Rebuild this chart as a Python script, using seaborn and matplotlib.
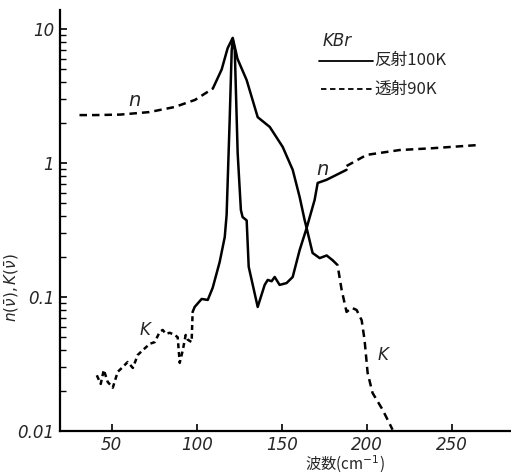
import numpy as np
import pandas as pd
import matplotlib
matplotlib.use("Agg")
import matplotlib.pyplot as plt
import matplotlib.ticker as mtick
import seaborn as sns

# n (transmission, low freq) - dashed
n_tr_lo_x = [31, 40, 55, 72, 87, 99, 109.5]
n_tr_lo_y = [2.28, 2.28, 2.30, 2.40, 2.62, 2.96, 3.6]
# n (reflection) - solid
n_rf_x = [109.5, 114.7, 118.2, 120.6, 121.2, 124, 129.4, 135.9, 143, 150.6, 156.5, 160.6, 163.5, 164.7,
          169.4, 171.2, 176.5, 188.2]
n_rf_y = [3.6, 5.0, 7.2, 8.3, 8.6, 6.0, 4.16, 2.2, 1.86, 1.32, 0.89, 0.557, 0.376, 0.327,
          0.53, 0.71, 0.75, 0.89]
# n (transmission, high freq) - dashed
n_tr_hi_x = [188.2, 200, 219.4, 238.8, 264.7]
n_tr_hi_y = [0.95, 1.15, 1.25, 1.29, 1.36]

# K (transmission, low freq) - dashed
k_tr_lo_x = [41.2, 43.5, 45.3, 47.6, 50.6, 53.5, 55.9, 59.4, 62.4, 65.3, 68.2, 72.4, 75.3, 78.2, 80,
             81.8, 84.1, 87.1, 88.8, 90, 91.8, 93.5, 94.7, 97, 97.6]
k_tr_lo_y = [0.026, 0.0224, 0.0285, 0.0232, 0.021, 0.0276, 0.0295, 0.0327, 0.0295, 0.0369, 0.040,
             0.0447, 0.046, 0.0548, 0.0567, 0.053, 0.054, 0.052, 0.050, 0.0322, 0.040, 0.052, 0.048,
             0.046, 0.0773]
# K (reflection) - solid
k_rf_x = [97.6, 98.8, 102.9, 106.5, 109.4, 113.5, 116.5, 117.6, 119.4, 120.6, 121.2, 122.4, 124.1, 126,
          127, 129.4, 130.6, 135.9, 140, 141.8, 144.1, 145.9, 148.8, 152.9, 156.5, 160.6, 164.7,
          168.2, 172.4, 176.5, 180]
k_rf_y = [0.0773, 0.0842, 0.0966, 0.095, 0.117, 0.182, 0.28, 0.41, 2.1, 6.97, 8.3, 6.97, 1.19, 0.446,
          0.395, 0.373, 0.168, 0.0842, 0.123, 0.134, 0.131, 0.141, 0.123, 0.127, 0.141, 0.224, 0.327,
          0.213, 0.195, 0.204, 0.188]
# K (transmission, high freq) - dashed
k_tr_hi_x = [180, 182.9, 185.3, 188.2, 191.2, 194.1, 197.1, 198.8, 200.6, 203.5, 209.4, 215.3]
k_tr_hi_y = [0.188, 0.173, 0.113, 0.0773, 0.083, 0.080, 0.067, 0.0477, 0.0271, 0.0192, 0.0144, 0.0102]

x_ticks = [50, 100, 150, 200, 250]
y_ticks = [0.01, 0.1, 1, 10]
y_tick_labels = ["0.01", "0.1", "1", "10"]

sns.set_style("ticks")
plt.rcParams['font.family'] = ['DejaVu Sans', 'Noto Sans CJK JP']
lat = ['DejaVu Sans']
cjk = ['Noto Sans CJK JP', 'DejaVu Sans']

fig = plt.figure(figsize=(5.11, 4.74), dpi=100)
ax = fig.add_axes([0.117, 0.091, 0.883, 0.888])

lw = 1.8
for xs, ys in [(n_rf_x, n_rf_y), (k_rf_x, k_rf_y)]:
    sns.lineplot(x=xs, y=ys, ax=ax, sort=False, color='black', lw=lw)
for xs, ys in [(n_tr_lo_x, n_tr_lo_y), (n_tr_hi_x, n_tr_hi_y), (k_tr_hi_x, k_tr_hi_y)]:
    sns.lineplot(x=xs, y=ys, ax=ax, sort=False, color='black', lw=lw, linestyle=(0, (3, 2)))
sns.lineplot(x=k_tr_lo_x, y=k_tr_lo_y, ax=ax, sort=False, color='black', lw=lw, linestyle=(0, (2, 1.5)))

ax.set_yscale('log')
ax.set_xlim(19.4, 285)
ax.set_ylim(0.01, 13.9)
ax.set_xticks(x_ticks)
ax.set_xticklabels([str(t) for t in x_ticks], family=lat, fontstyle='italic', fontsize=12)
ax.set_yticks(y_ticks)
ax.set_yticklabels(y_tick_labels, family=lat, fontstyle='italic', fontsize=12)
ax.yaxis.set_minor_locator(mtick.LogLocator(base=10, subs=np.arange(2, 10)))
ax.yaxis.set_minor_formatter(mtick.NullFormatter())
ax.tick_params(axis='both', which='both', direction='in', color='black')
ax.tick_params(axis='both', which='major', length=5, width=1.2, pad=4)
ax.tick_params(axis='y', which='minor', length=4, width=1.0)
sns.despine(ax=ax)
for s in ['left', 'bottom']:
    ax.spines[s].set_linewidth(1.6)
    ax.spines[s].set_color('black')

# curve labels
ax.text(63.5, 2.95, "n", family=lat, fontsize=14, fontstyle='italic', ha='center', va='center')
ax.text(174, 0.9, "n", family=lat, fontsize=14, fontstyle='italic', ha='center', va='center')
ax.text(69.5, 0.057, "K", family=lat, fontsize=12, fontstyle='italic', ha='center', va='center')
ax.text(209.5, 0.037, "K", family=lat, fontsize=12, fontstyle='italic', ha='center', va='center')

# legend drawn by hand like the original
ax.text(0.583, 0.927, "KBr", transform=ax.transAxes, family=lat, fontsize=12, fontstyle='italic',
        va='center')
ax.plot([0.574, 0.695], [0.879, 0.879], transform=ax.transAxes, color='black', lw=1.3)
ax.plot([0.578, 0.695], [0.812, 0.812], transform=ax.transAxes, color='black', lw=1.3,
        linestyle=(0, (3, 2)))
ax.text(0.697, 0.879, "反射100K", transform=ax.transAxes, family=cjk, fontsize=12, va='center')
ax.text(0.697, 0.812, "透射90K", transform=ax.transAxes, family=cjk, fontsize=12, va='center')

ax.set_ylabel(r"$n(\bar{\nu}),K(\bar{\nu})$", fontsize=11, labelpad=2)
ax.yaxis.set_label_coords(-0.085, 0.34)
fig.text(345 / 511, 1 - 464 / 474, "波数(cm$^{-1}$)", family=cjk, fontsize=11, ha='center', va='center')

fig.savefig("out.png", dpi=100)
